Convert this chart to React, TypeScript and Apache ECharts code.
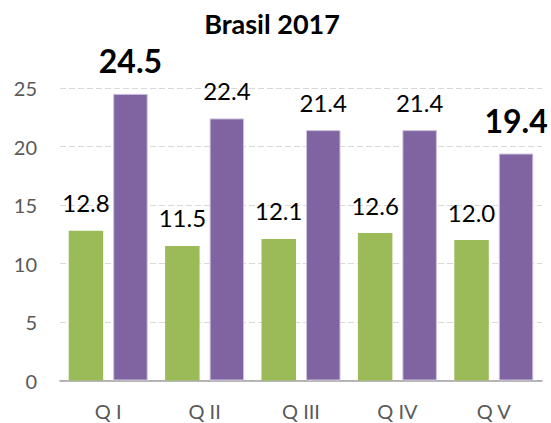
import React, { useEffect, useRef } from "react";
import * as echarts from "echarts";

const categories = ["Q I", "Q II", "Q III", "Q IV", "Q V"];
const seriesA = [12.8, 11.5, 12.1, 12.6, 12.0];
const seriesB = [24.5, 22.4, 21.4, 21.4, 19.4];
const boldIndexB = [0, 4];
const titleText = "Brasil 2017";

const FONT = "Lato, 'Open Sans', sans-serif";

export default function App() {
  const ref = useRef<HTMLDivElement>(null);
  useEffect(() => {
    if (!ref.current) return;
    const chart = echarts.init(ref.current, undefined, { renderer: "svg" });
    const labelBase = {
      show: true,
      position: "top" as const,
      distance: 16,
      fontFamily: FONT,
      fontSize: 24,
      color: "#000",
      formatter: (p: any) => Number(p.value).toFixed(1),
    };
    chart.setOption({
      animation: false,
      backgroundColor: "#fff",
      title: {
        text: titleText,
        left: 267,
        top: 5,
        textAlign: "center",
        textStyle: { fontFamily: FONT, fontSize: 27, fontWeight: "bold", color: "#000" },
      },
      grid: { left: 60, right: 9, top: 88, bottom: 42.5, containLabel: false },
      xAxis: {
        type: "category",
        data: categories,
        axisLine: { show: true, lineStyle: { color: "#a0a0a0", width: 1.5 } },
        axisTick: { show: false },
        axisLabel: { fontFamily: FONT, fontSize: 20, color: "#595959", margin: 20 },
      },
      yAxis: {
        type: "value",
        min: 0,
        max: 25,
        interval: 5,
        axisLine: { show: false },
        axisTick: { show: false },
        axisLabel: { fontFamily: FONT, fontSize: 20, color: "#595959", margin: 23 },
        splitLine: { show: true, lineStyle: { color: "#d9d9d9", type: [6, 3], width: 1 } },
      },
      series: [
        {
          type: "bar",
          data: seriesA,
          barWidth: 34.5,
          barGap: "29%",
          itemStyle: { color: "#9bbb59" },
          label: labelBase,
        },
        {
          type: "bar",
          data: seriesB.map((v, i) =>
            boldIndexB.includes(i)
              ? { value: v, label: { fontSize: 32, fontWeight: "bold", distance: 17 } }
              : { value: v }
          ),
          barWidth: 34.5,
          itemStyle: { color: "#8064a2", borderColor: "#cfc3df", borderWidth: 1 },
          label: labelBase,
        },
      ],
    });
    return () => chart.dispose();
  }, []);
  return (
    <div
      ref={ref}
      style={{ position: "absolute", left: 0, top: 0, width: 551, height: 423 }}
    />
  );
}
